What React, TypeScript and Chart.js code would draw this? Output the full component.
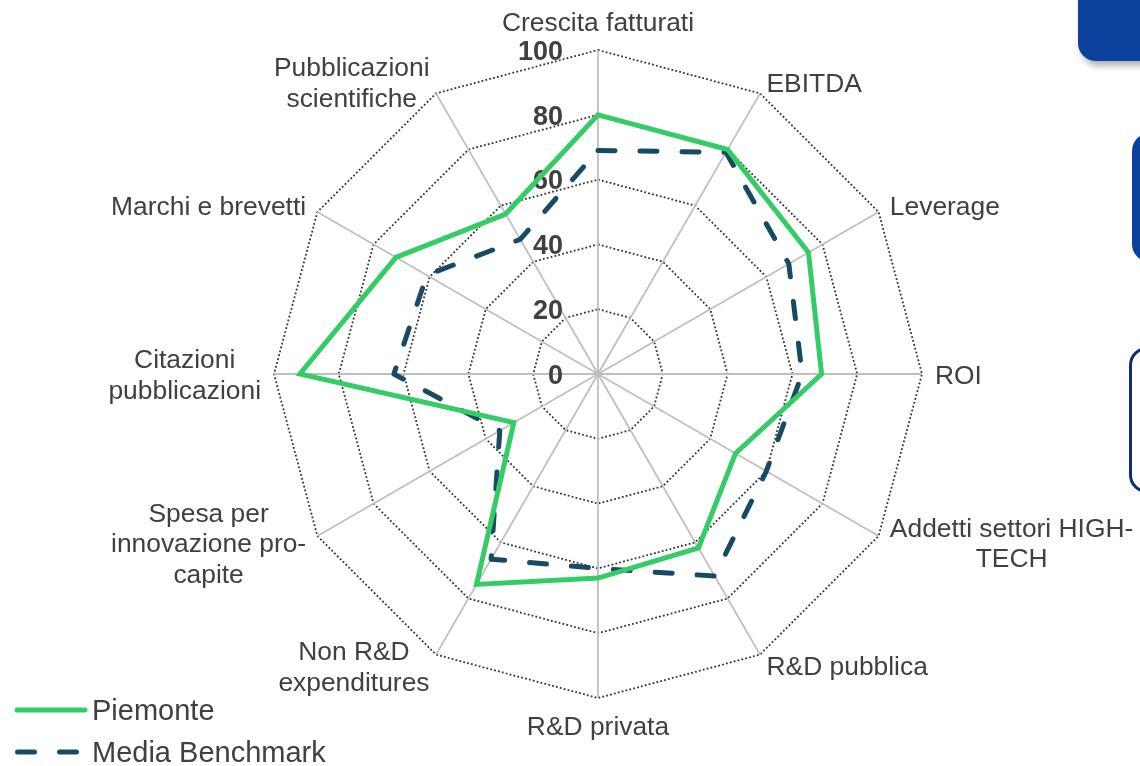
import React, { useEffect, useRef } from "react";
import { Chart, registerables } from "chart.js";

Chart.register(...registerables);

const categories: string[][] = [
  ["Crescita fatturati"],
  ["EBITDA"],
  ["Leverage"],
  ["ROI"],
  ["Addetti settori HIGH-", "TECH"],
  ["R&D pubblica"],
  ["R&D privata"],
  ["Non R&D", "expenditures"],
  ["Spesa per", "innovazione pro-", "capite"],
  ["Citazioni", "pubblicazioni"],
  ["Marchi e brevetti"],
  ["Pubblicazioni", "scientifiche"],
];

const piemonte: number[] = [80, 80, 75, 69, 49, 62, 63, 75, 30, 92, 72, 57];
const benchmark: number[] = [69, 79, 68, 63, 60, 72, 60, 66, 35, 63, 61, 48];

const tickValues: number[] = [0, 20, 40, 60, 80, 100];

const seriesNames: string[] = ["Piemonte", "Media Benchmark"];

const GREEN = "#33CC66";
const NAVY = "#174A63";
const TEXT = "#404040";
const FONT = '"Liberation Sans", Arial, Helvetica, sans-serif';

const decorPlugin = {
  id: "decor",
  beforeDatasetsDraw(chart: any) {
    const scale = chart.scales.r;
    const ctx = chart.ctx;
    ctx.save();
    ctx.font = `bold 27px ${FONT}`;
    ctx.fillStyle = TEXT;
    ctx.textAlign = "right";
    ctx.textBaseline = "alphabetic";
    tickValues.forEach((v) => {
      const d = scale.getDistanceFromCenterForValue(v);
      ctx.fillText(String(v), scale.xCenter - 35, scale.yCenter - d + 0.36 * 27);
    });
    ctx.restore();
  },
  afterDraw(chart: any) {
    const scale = chart.scales.r;
    const ctx = chart.ctx;
    const labels = chart.data.labels as string[][];
    const size = 26.4;
    const lineH = 30.5;
    ctx.save();
    ctx.font = `${size}px ${FONT}`;
    ctx.fillStyle = TEXT;
    ctx.textBaseline = "alphabetic";
    const n = labels.length;
    labels.forEach((lines, i) => {
      const p = scale.getPointPosition(i, scale.drawingArea + 13);
      const angle = (i / n) * Math.PI * 2;
      const s = Math.sin(angle);
      const widths = lines.map((l) => ctx.measureText(l).width);
      const bw = Math.max(...widths);
      let cx: number;
      if (s > 0.01) cx = p.x + bw / 2;
      else if (s < -0.01) cx = p.x - bw / 2;
      else cx = p.x;
      let cy = p.y;
      if (Math.abs(s) <= 0.01) {
        cy = Math.cos(angle) > 0 ? p.y - 16 : p.y + 14;
      }
      ctx.textAlign = "center";
      lines.forEach((l, k) => {
        const ly = cy + (k - (lines.length - 1) / 2) * lineH;
        ctx.fillText(l, cx, ly + 0.36 * size);
      });
    });

    // legend
    const lsize = 29;
    ctx.font = `${lsize}px ${FONT}`;
    ctx.textAlign = "left";
    ctx.lineWidth = 5;
    ctx.lineCap = "round";
    ctx.strokeStyle = GREEN;
    ctx.setLineDash([]);
    ctx.beginPath();
    ctx.moveTo(17, 710);
    ctx.lineTo(85, 710);
    ctx.stroke();
    ctx.fillText(seriesNames[0], 92, 710 + 0.36 * lsize);
    ctx.strokeStyle = NAVY;
    ctx.setLineDash([17, 25]);
    ctx.beginPath();
    ctx.moveTo(17.5, 752);
    ctx.lineTo(85, 752);
    ctx.stroke();
    ctx.setLineDash([]);
    ctx.fillText(seriesNames[1], 92, 752 + 0.36 * lsize);
    ctx.restore();
  },
};

function RadarChart() {
  const ref = useRef<HTMLCanvasElement | null>(null);
  useEffect(() => {
    if (!ref.current) return;
    const chart = new Chart(ref.current, {
      type: "radar",
      data: {
        labels: categories as any,
        datasets: [
          {
            label: seriesNames[0],
            data: piemonte,
            borderColor: GREEN,
            backgroundColor: "transparent",
            borderWidth: 5,
            borderJoinStyle: "miter",
            fill: false,
            pointRadius: 0,
            pointHoverRadius: 0,
            tension: 0,
          },
          {
            label: seriesNames[1],
            data: benchmark,
            borderColor: NAVY,
            backgroundColor: "transparent",
            borderWidth: 5,
            borderDash: [17, 25],
            borderCapStyle: "round",
            borderJoinStyle: "round",
            fill: false,
            pointRadius: 0,
            pointHoverRadius: 0,
            tension: 0,
          },
        ],
      },
      options: {
        responsive: false,
        animation: false,
        events: [],
        layout: { padding: { left: 274, top: 50, right: 218, bottom: 68 } },
        plugins: { legend: { display: false }, tooltip: { enabled: false } },
        scales: {
          r: {
            min: 0,
            max: 100,
            ticks: { stepSize: 20, display: false },
            pointLabels: { display: false },
            grid: { color: "#333333", lineWidth: 1.8, circular: false },
            border: { dash: [1.8, 2.2] },
            angleLines: { color: "#BFBFBF", lineWidth: 1.8 },
          },
        },
      } as any,
      plugins: [decorPlugin],
    });
    return () => chart.destroy();
  }, []);
  return <canvas ref={ref} width={1140} height={766} style={{ position: "absolute", left: 0, top: 0, width: 1140, height: 766 }} />;
}

export default function App() {
  return (
    <div style={{ position: "absolute", left: 0, top: 0, width: 1140, height: 766, overflow: "hidden", background: "#fff" }}>
      <RadarChart />
      <div style={{ position: "absolute", left: 1078, top: -30, width: 120, height: 91, background: "#0B409C", borderRadius: 18, boxShadow: "3px 5px 6px rgba(0,0,0,0.3)" }} />
      <div style={{ position: "absolute", left: 1132, top: 133, width: 60, height: 129, background: "#0B409C", borderRadius: 18 }} />
      <div style={{ position: "absolute", left: 1129, top: 347, width: 60, height: 140, border: "3px solid #0B2E78", borderRadius: 18, background: "#fff", boxSizing: "content-box" }} />
    </div>
  );
}
